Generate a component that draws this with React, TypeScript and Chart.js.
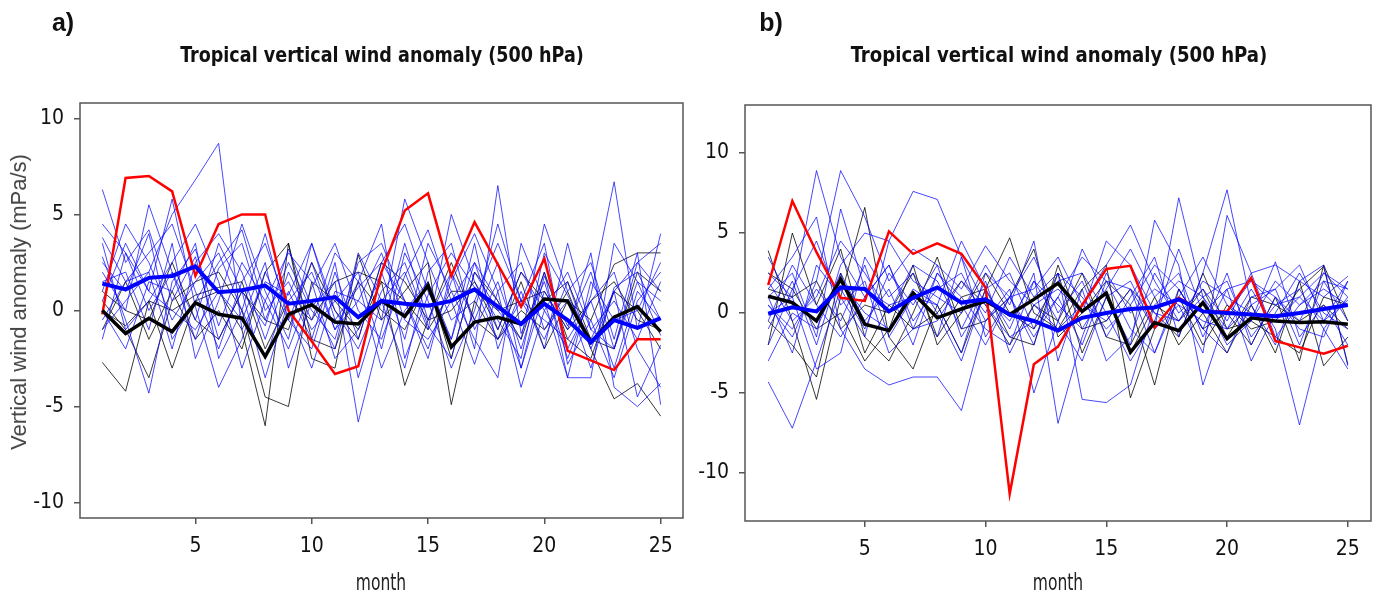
import React, { useEffect, useRef } from "react";
import { Chart, registerables } from "chart.js";

Chart.register(...registerables);

// ---- shared axes ----
const MONTHS = [1, 2, 3, 4, 5, 6, 7, 8, 9, 10, 11, 12, 13, 14, 15, 16, 17, 18, 19, 20, 21, 22, 23, 24, 25];
const X_TICKS = [5, 10, 15, 20, 25];
const Y_TICKS = [-10, -5, 0, 5, 10];

// ---- panel a ----
const A_RED = [-0.2, 6.9, 7.0, 6.2, 1.8, 4.5, 5.0, 5.0, 0.0, -1.6, -3.3, -2.9, 2.0, 5.2, 6.1, 1.8, 4.6, 2.4, 0.2, 2.7, -2.1, -2.6, -3.1, -1.5, -1.5];
const A_MEAN_BLACK = [0.0, -1.2, -0.4, -1.1, 0.4, -0.2, -0.4, -2.4, -0.2, 0.3, -0.6, -0.7, 0.5, -0.3, 1.3, -1.9, -0.6, -0.35, -0.7, 0.6, 0.5, -1.65, -0.35, 0.2, -1.1];
const A_MEAN_BLUE = [1.4, 1.1, 1.7, 1.8, 2.3, 0.95, 1.05, 1.3, 0.35, 0.5, 0.7, -0.35, 0.5, 0.35, 0.25, 0.5, 1.1, 0.2, -0.7, 0.35, -0.5, -1.65, -0.5, -0.9, -0.4];
const A_BLUE_MEMBERS = [
  [6.3, 2.5, 4.2, 0.5, 2.8, -1.5, 1.0, -0.8, 3.2, 0.2, 1.5, -5.8, -1.0, 3.5, -0.5, 2.0, -2.0, 6.5, -1.2, 1.5, -2.5, 0.8, 6.7, -1.0, 4.0],
  [3.8, 1.5, 2.0, 5.0, 6.8, 8.7, -1.0, 1.5, 0.8, 3.5, -0.5, 1.2, 2.5, 4.5, 1.0, -1.5, 2.5, 0.5, -3.0, 1.8, -0.8, 2.0, -2.0, 1.5, -1.3],
  [2.8, -0.5, -4.3, 1.5, 3.2, -0.8, 2.5, 0.5, -2.0, 1.2, 3.5, 0.0, -1.5, 1.8, 4.2, 0.5, -2.8, 1.0, 2.5, -1.0, 0.5, -3.0, 1.2, 2.0, -0.5],
  [0.5, 3.5, 1.0, 5.8, 0.2, -4.0, -1.5, 2.0, -0.5, 2.5, -1.0, 1.5, 4.5, -2.5, 0.8, 3.0, 1.2, -1.5, 0.5, 3.5, -2.8, -0.5, -3.5, 0.5, 2.0],
  [1.0, 4.5, 2.5, -0.5, 1.5, 3.0, 0.0, -2.5, 1.0, -1.5, 2.5, -3.5, 0.5, 2.0, -1.0, 5.0, 1.5, -0.5, -2.5, 3.0, 0.8, -1.5, 1.0, -4.5, -1.8],
  [2.0, 0.0, 5.5, 2.0, -1.5, 2.2, 3.5, -0.5, 2.5, 0.0, -1.5, 2.5, 3.5, 0.5, -2.0, 1.5, 4.0, 1.0, -4.0, 0.0, 2.0, -1.0, -2.0, 2.5, 1.0],
  [-0.5, 1.5, 3.0, 4.5, 1.0, -2.0, 1.5, 3.5, 0.0, -3.0, 1.0, 0.5, -0.5, 5.8, 2.5, -0.5, 0.5, 3.5, 0.5, -0.5, -1.5, 0.5, 2.0, -2.0, -4.0],
  [3.5, -1.0, 0.5, 2.5, 4.5, 1.5, -3.0, 0.5, 3.0, 1.5, -2.5, -1.0, 2.0, -1.5, 3.5, 1.0, -1.5, -3.5, 3.5, 0.5, -3.5, 1.5, -0.5, 0.0, 2.5],
  [1.5, 2.0, -1.0, 3.5, -2.5, 0.5, 4.5, 1.0, -1.5, 3.5, 0.0, -2.0, 1.0, 2.5, -0.8, -2.5, 2.0, 0.0, -1.5, 4.5, 1.0, 2.5, -1.5, 3.0, -4.9],
  [-1.0, 0.5, 2.0, -2.0, 2.5, 4.0, 2.0, -1.5, 2.0, -0.5, 3.0, 1.5, -3.0, 0.0, 1.5, -1.5, 3.5, -2.0, 1.0, -2.0, 3.5, -1.0, 0.5, -1.5, 1.5],
  [4.5, 3.0, 1.0, 0.0, -1.0, 1.0, -0.5, 2.5, -3.0, 0.5, -2.0, 3.0, 0.5, -3.0, 2.0, 3.5, -1.0, 1.5, -2.0, 2.0, -3.5, -3.5, 3.5, 1.5, 0.5],
  [0.0, -2.0, 1.5, 1.0, 3.5, -2.5, 0.0, 4.0, -0.5, -2.0, 2.0, -1.5, 2.5, 0.5, -2.5, 2.0, -0.5, 2.5, -3.0, 1.0, -1.0, 3.0, -4.0, -5.0, -3.8],
  [2.5, 1.0, 4.0, -1.5, 0.5, 2.5, 4.2, 0.0, 1.5, -1.0, 0.5, 2.0, -2.0, 3.0, 0.5, -3.0, 0.0, 4.5, 0.5, -1.5, 1.5, -2.0, 1.0, 2.5, 3.5],
  [-1.5, 3.0, 0.0, 2.0, -0.5, 3.5, 1.0, -3.5, 0.5, 2.0, -1.0, 0.5, 3.0, -0.5, -1.5, 0.5, 2.5, -1.0, 2.0, 0.0, -2.0, 0.5, -3.0, 1.0, -0.5],
];
const A_BLACK_MEMBERS = [
  [-2.7, -4.2, 0.5, -3.0, 0.5, 1.0, -1.0, -6.0, 3.5, -2.5, -3.0, 2.9, -0.5, 1.0, 2.5, -4.9, 0.5, -1.5, 0.0, -1.0, 1.0, -2.0, -4.6, -3.8, -5.5],
  [0.5, -1.0, -3.5, 0.5, 1.5, 2.0, 0.0, -4.5, -5.0, 1.5, 0.5, -1.0, 1.5, -3.9, -0.5, 2.5, -0.5, -1.5, 1.5, -2.0, 0.5, -0.5, 2.4, 3.0, 3.0],
  [0.0, -0.8, 0.5, 0.0, 0.8, 1.2, 1.5, -2.0, 0.5, -0.5, 1.5, 2.0, 1.5, 0.5, -1.0, 1.0, 1.0, 0.0, 0.5, 1.0, -1.0, 0.5, 1.5, -0.5, -1.0],
  [-1.0, 1.5, -1.5, 1.0, -1.5, 0.0, -2.0, 2.0, 3.5, -1.5, -2.0, 1.5, 0.0, -1.0, 1.5, -2.5, 2.0, 0.5, -1.5, 2.0, -1.5, -2.5, 1.0, 0.0, -2.0],
  [1.0, 0.0, -0.5, 2.5, -0.5, -1.5, 1.0, -0.5, -1.0, 2.5, 0.0, -1.5, 2.5, 1.5, -0.5, 0.0, 1.5, -1.0, 2.0, 0.5, 1.5, -1.5, -2.0, 2.0, 1.0],
];

// ---- panel b ----
const B_RED = [1.75, 7.0, 3.8, 0.95, 0.75, 5.1, 3.7, 4.35, 3.7, 1.6, -11.3, -3.2, -2.1, 0.5, 2.75, 2.95, -0.9, 0.95, 0.1, 0.1, 2.2, -1.75, -2.15, -2.55, -2.05];
const B_MEAN_BLACK = [1.05, 0.65, -0.5, 2.1, -0.7, -1.1, 1.25, -0.3, 0.25, 0.75, -0.1, 0.85, 1.85, 0.1, 1.25, -2.45, -0.6, -1.1, 0.65, -1.6, -0.3, -0.5, -0.6, -0.55, -0.7];
const B_MEAN_BLUE = [-0.05, 0.35, 0.1, 1.6, 1.5, 0.1, 0.95, 1.6, 0.65, 0.85, -0.1, -0.5, -1.1, -0.3, 0.0, 0.25, 0.35, 0.85, 0.1, 0.0, -0.1, -0.2, 0.0, 0.25, 0.5];
const B_BLUE_MEMBERS = [
  [-4.3, -7.2, -3.0, 1.5, -1.0, 2.5, 0.5, 3.0, -1.5, 1.0, -0.5, 2.0, -0.5, -3.0, 1.0, 2.0, -1.0, 0.5, -0.5, -1.0, 1.5, -1.0, -7.0, -1.0, 1.0],
  [2.5, 1.0, 8.9, 3.5, 1.0, 3.0, -1.0, 2.5, 0.5, -2.0, 1.0, 3.5, 0.0, 2.0, -1.5, 1.0, 3.5, -1.5, 2.5, 7.7, 0.5, 1.5, 3.0, -0.5, 2.0],
  [0.5, -1.5, 2.0, 8.9, 6.0, 2.0, 4.0, 3.0, 1.5, 4.2, 2.0, 0.5, -1.0, 0.5, 3.0, 5.5, 2.0, -0.5, 1.0, 2.0, -1.5, 0.5, 1.0, 2.5, 1.5],
  [1.5, 3.5, 6.0, -1.0, -3.5, -4.5, -4.0, -4.0, -6.1, -0.5, 1.5, -5.0, -0.5, 4.0, 1.0, -2.0, 5.8, 3.0, -4.5, 0.0, 2.0, 0.5, 1.5, -1.0, -3.5],
  [-1.0, 2.0, -2.0, 3.0, 5.0, 4.5, 7.6, 7.1, 3.5, -1.5, 1.0, 1.5, 3.5, 0.5, -0.5, 1.5, -1.0, 7.2, 1.0, -2.0, -0.5, 2.0, 0.5, 1.5, 0.5],
  [3.5, 0.5, -0.5, 2.0, 0.0, -1.0, 1.5, 0.5, 4.5, 1.5, -1.0, 2.5, -6.9, -1.5, 2.5, 0.0, 1.5, 0.5, -2.5, 6.1, 2.5, 3.0, 2.0, 1.0, 2.3],
  [-2.0, 1.5, 4.5, 0.5, 2.0, -2.5, -1.0, -0.5, 2.0, 0.0, 3.5, 1.0, 2.5, -5.4, -5.6, -4.5, 0.5, 2.0, 1.0, -1.0, 0.5, -2.0, 2.0, 3.0, -3.3],
  [0.0, 1.0, -3.5, -2.5, 3.5, 1.0, 2.5, 0.0, -3.0, 1.5, 2.5, -1.0, 1.0, 3.5, 2.0, 1.5, -2.5, 1.0, 3.5, 0.5, -0.5, 3.2, -1.5, 0.5, -2.0],
  [2.0, -0.5, 1.0, 4.5, 2.5, 0.0, 3.0, 2.0, -1.0, 2.0, -2.5, 0.5, 1.5, 0.0, 4.5, 3.0, 0.0, -0.5, 2.0, 1.0, 0.0, -0.5, 1.0, -0.5, 0.8],
  [-0.5, 3.0, 0.5, -1.5, 1.0, 3.0, -0.5, 1.5, 2.5, -0.5, 1.0, -2.0, 2.5, 1.0, -1.0, 0.5, 3.0, 1.5, -1.0, -2.5, 1.0, 1.5, -2.0, 2.0, 1.5],
  [1.0, -2.5, 3.0, 1.0, -1.5, 4.5, 2.0, 1.0, 0.0, 3.0, 0.5, 4.5, -3.0, 1.5, -3.0, -1.5, 2.5, 0.0, 1.5, -0.5, 2.5, -1.5, 0.5, 2.0, -0.5],
  [-3.0, 0.0, -1.0, 2.5, -0.5, 1.5, -2.0, 2.5, 1.0, -1.0, -2.0, 2.0, 0.5, -1.0, 1.5, 4.0, 1.0, 2.5, -1.5, 1.5, -3.0, 0.0, 2.5, 0.0, -1.0],
  [1.0, 2.5, -1.5, 6.5, 1.5, 0.5, 1.0, -1.5, 3.5, 0.5, -1.5, -0.5, 2.0, 2.5, 0.0, -3.0, -0.5, 4.0, 0.0, 1.5, 2.0, 1.0, -0.5, 2.5, 1.0],
  [0.5, -1.0, 1.5, -0.5, 3.0, -1.5, 1.0, 0.5, -2.5, 2.5, 1.0, -1.5, 1.0, -2.0, 2.0, -1.0, -2.5, 1.5, -1.0, 2.5, -2.0, 1.0, -1.0, -1.5, 2.0],
];
const B_BLACK_MEMBERS = [
  [3.9, -0.5, -5.4, 1.0, 6.6, -1.5, -3.5, 0.5, -2.5, 1.5, 4.7, 0.0, -1.0, 1.5, 3.0, -5.3, -1.0, 1.0, -2.0, 0.5, -1.0, -0.5, 1.5, 2.9, -3.2],
  [-2.0, 5.0, 0.5, 4.0, -1.5, -3.0, 0.0, 3.5, -1.0, -0.5, 1.0, 4.0, -1.5, 0.0, 2.0, 0.5, -4.5, 1.5, -1.0, 0.0, -2.0, 1.0, -3.0, 3.0, -0.5],
  [1.5, 1.0, 2.0, -1.0, 0.5, 0.0, 2.5, -1.5, 1.0, 1.5, -1.5, -2.0, 3.0, -1.0, -0.5, 1.5, 0.0, -1.5, 2.5, -1.0, -0.5, -1.5, -2.5, 1.0, 0.5],
  [-0.5, -2.0, -4.0, 2.5, -2.5, 0.5, -1.0, 0.0, 2.0, 0.5, -2.0, 0.5, -0.5, 2.5, -1.5, -2.0, 1.0, -2.0, 0.0, -2.5, 0.5, -2.5, 2.0, -3.3, -1.5],
  [2.5, 1.5, -1.0, 0.0, -3.0, -1.0, 3.0, -2.0, 0.0, 2.5, 0.0, -1.0, 2.5, -2.5, 1.0, -2.5, 0.5, -0.5, 1.5, -1.5, 1.0, 0.5, -0.5, 0.5, -1.0],
];

const NARROW = '"Liberation Sans Narrow", "Arial Narrow", "DejaVu Sans Condensed", sans-serif';
const SANS = '"Liberation Sans", Arial, sans-serif';

const toPoints = (values: number[]) => values.map((v, i) => ({ x: MONTHS[i], y: v }));

// R-style closed frame around the plotting region
const frameBox = {
  id: "frameBox",
  afterDatasetsDraw(chart: any) {
    const { ctx, chartArea: a } = chart;
    ctx.save();
    ctx.strokeStyle = "#555";
    ctx.lineWidth = 1.5;
    ctx.strokeRect(a.left, a.top, a.right - a.left, a.bottom - a.top);
    ctx.restore();
  },
};

type PanelProps = {
  left: number;
  width: number;
  yAxisWidth: number;
  padRight: number;
  padTop: number;
  xAxisHeight: number;
  yLimit: number;
  red: number[];
  meanBlack: number[];
  meanBlue: number[];
  blueMembers: number[][];
  blackMembers: number[][];
};

const HEIGHT = 597;

function Panel(p: PanelProps) {
  const ref = useRef<HTMLCanvasElement | null>(null);

  useEffect(() => {
    if (!ref.current) return;
    const datasets: any[] = [];
    datasets.push({ data: toPoints(p.meanBlue), borderColor: "#0000ff", borderWidth: 4, order: 0 });
    datasets.push({ data: toPoints(p.meanBlack), borderColor: "#000000", borderWidth: 3.5, order: 1 });
    datasets.push({ data: toPoints(p.red), borderColor: "#ff0000", borderWidth: 2.5, order: 2 });
    p.blueMembers.forEach((m) =>
      datasets.push({ data: toPoints(m), borderColor: "rgba(0,0,255,0.72)", borderWidth: 1, order: 3 })
    );
    p.blackMembers.forEach((m) =>
      datasets.push({ data: toPoints(m), borderColor: "rgba(0,0,0,0.78)", borderWidth: 1, order: 4 })
    );

    const tickFont = { family: NARROW, size: 21 };
    const chart = new Chart(ref.current, {
      type: "line",
      data: { datasets },
      plugins: [frameBox],
      options: {
        animation: false,
        responsive: false,
        maintainAspectRatio: false,
        events: [],
        layout: { padding: { left: 0, right: p.padRight, top: p.padTop, bottom: 0 } },
        plugins: { legend: { display: false }, tooltip: { enabled: false }, title: { display: false } },
        elements: { point: { radius: 0 }, line: { tension: 0, fill: false } },
        scales: {
          x: {
            type: "linear",
            min: 0.04,
            max: 25.96,
            afterBuildTicks: (s: any) => {
              s.ticks = X_TICKS.map((v) => ({ value: v }));
            },
            afterFit: (s: any) => {
              s.height = p.xAxisHeight;
            },
            grid: { drawOnChartArea: false, drawTicks: true, tickLength: 6, color: "#555", lineWidth: 1.5 },
            border: { display: false },
            ticks: { font: tickFont, color: "#111", padding: 10, maxRotation: 0, autoSkip: false, callback: (v: any) => String(v) },
          },
          y: {
            type: "linear",
            min: -p.yLimit,
            max: p.yLimit,
            afterBuildTicks: (s: any) => {
              s.ticks = Y_TICKS.map((v) => ({ value: v }));
            },
            afterFit: (s: any) => {
              s.width = p.yAxisWidth;
            },
            grid: { drawOnChartArea: false, drawTicks: true, tickLength: 6, color: "#555", lineWidth: 1.5 },
            border: { display: false },
            ticks: { font: tickFont, color: "#111", padding: 10, autoSkip: false, callback: (v: any) => String(v) },
          },
        },
      } as any,
    });
    return () => chart.destroy();
  }, []);

  return (
    <canvas
      ref={ref}
      width={p.width}
      height={HEIGHT}
      style={{ position: "absolute", left: p.left, top: 0, width: p.width, height: HEIGHT }}
    />
  );
}

const TITLE = "Tropical vertical wind anomaly (500 hPa)";

function Label(props: { x: number; y: number; text: string; transform?: string; style?: React.CSSProperties }) {
  return (
    <div
      style={{
        position: "absolute",
        left: props.x,
        top: props.y,
        transform: "translate(-50%, -50%) " + (props.transform || ""),
        whiteSpace: "nowrap",
        lineHeight: 1,
        ...props.style,
      }}
    >
      {props.text}
    </div>
  );
}

export default function App() {
  const titleStyle: React.CSSProperties = { fontFamily: NARROW, fontWeight: 700, fontSize: 21, color: "#111" };
  const tagStyle: React.CSSProperties = { fontFamily: SANS, fontWeight: 700, fontSize: 25, color: "#111" };
  const monthStyle: React.CSSProperties = { fontFamily: NARROW, fontSize: 23, color: "#222" };
  return (
    <div style={{ position: "absolute", left: 0, top: 0, width: 1378, height: HEIGHT, background: "#fff", overflow: "hidden" }}>
      <Panel
        left={0}
        width={700}
        yAxisWidth={80}
        padRight={17}
        padTop={103}
        xAxisHeight={79}
        yLimit={10.8}
        red={A_RED}
        meanBlack={A_MEAN_BLACK}
        meanBlue={A_MEAN_BLUE}
        blueMembers={A_BLUE_MEMBERS}
        blackMembers={A_BLACK_MEMBERS}
      />
      <Panel
        left={680}
        width={698}
        yAxisWidth={65}
        padRight={7}
        padTop={105}
        xAxisHeight={76}
        yLimit={13}
        red={B_RED}
        meanBlack={B_MEAN_BLACK}
        meanBlue={B_MEAN_BLUE}
        blueMembers={B_BLUE_MEMBERS}
        blackMembers={B_BLACK_MEMBERS}
      />
      <Label x={63} y={22} text="a)" style={tagStyle} />
      <Label x={771} y={22} text="b)" style={tagStyle} />
      <Label x={382} y={55} text={TITLE} transform="scaleX(0.93)" style={titleStyle} />
      <Label x={1059} y={55} text={TITLE} transform="scaleX(0.96)" style={titleStyle} />
      <Label x={381} y={582} text="month" transform="scaleX(0.75)" style={monthStyle} />
      <Label x={1058} y={582} text="month" transform="scaleX(0.75)" style={monthStyle} />
      <Label
        x={19}
        y={302}
        text="Vertical wind anomaly (mPa/s)"
        transform="rotate(-90deg)"
        style={{ fontFamily: SANS, fontSize: 22, color: "#444" }}
      />
    </div>
  );
}
